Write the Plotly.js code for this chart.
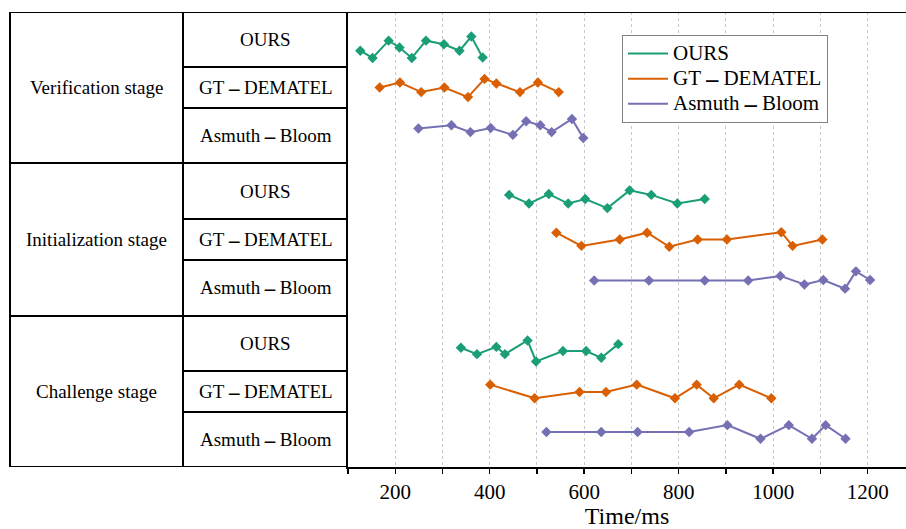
<!DOCTYPE html>
<html>
<head>
<meta charset="utf-8">
<script src="https://cdn.plot.ly/plotly-3.0.1.min.js"></script>
<style>html,body{margin:0;padding:0;background:#fff;}#chart{width:906px;height:529px;}</style>
</head>
<body>
<div id="chart"></div>
<script>
// ---- data ----
const stages = ['Verification stage', 'Initialization stage', 'Challenge stage'];
const methods = ['OURS', 'GT－DEMATEL', 'Asmuth－Bloom'];
const xTickVals = [200, 400, 600, 800, 1000, 1200];
const xTitle = 'Time/ms';

// Verification stage
const verOursX = [126, 152, 186, 209, 235, 265, 303, 336, 361, 385];
const verOursY = [91.5, 89.9, 93.7, 92.2, 89.9, 93.7, 92.9, 91.5, 94.6, 90.0];
const verGtX = [167, 210, 255, 304, 354, 389, 414, 464, 502, 546];
const verGtY = [83.4, 84.5, 82.4, 83.4, 81.3, 85.3, 84.3, 82.4, 84.5, 82.4];
const verAsX = [249, 319, 359, 402, 449, 477, 507, 531, 574, 598];
const verAsY = [74.4, 75.1, 73.6, 74.5, 73.0, 76.0, 75.1, 73.6, 76.5, 72.3];

// Initialization stage
const iniOursX = [441, 483, 525, 566, 602, 649, 696, 742, 797, 855];
const iniOursY = [59.8, 57.9, 60.0, 57.9, 58.9, 56.9, 60.8, 59.8, 57.9, 58.9];
const iniGtX = [541, 594, 675, 733, 780, 840, 902, 1017, 1041, 1104];
const iniGtY = [51.5, 48.6, 50.0, 51.5, 48.4, 50.0, 50.0, 51.6, 48.6, 50.0];
const iniAsX = [621, 737, 855, 947, 1015, 1066, 1106, 1152, 1175, 1205];
const iniAsY = [41.0, 41.0, 41.0, 41.0, 42.0, 40.1, 41.1, 39.2, 43.0, 41.1];

// Challenge stage
const chaOursX = [339, 373, 414, 432, 480, 498, 555, 604, 636, 672];
const chaOursY = [26.2, 24.8, 26.4, 24.8, 27.8, 23.2, 25.5, 25.5, 24.0, 27.0];
const chaGtX = [401, 495, 590, 646, 711, 792, 838, 874, 928, 996];
const chaGtY = [18.1, 15.1, 16.5, 16.5, 18.1, 15.1, 18.1, 15.1, 18.1, 15.1];
const chaAsX = [520, 636, 713, 822, 903, 973, 1033, 1082, 1111, 1153];
const chaAsY = [7.7, 7.7, 7.7, 7.7, 9.2, 6.2, 9.2, 6.2, 9.2, 6.2];

// ---- styling / layout ----
const colors = ['#1b9e77', '#d95f02', '#7570b3'];
const serif = "'Liberation Serif', 'Times New Roman', serif";

// render the full-width dash as a clear mid-height bar
function label(t, dashSize) {
  return t.replace('－', '\u2009<span style="font-family:\'DejaVu Sans\';font-size:' + dashSize + 'px;font-weight:bold">—</span>\u2009');
}

const seriesX = [[verOursX, verGtX, verAsX], [iniOursX, iniGtX, iniAsX], [chaOursX, chaGtX, chaAsX]];
const seriesY = [[verOursY, verGtY, verAsY], [iniOursY, iniGtY, iniAsY], [chaOursY, chaGtY, chaAsY]];

const traces = [];
for (let s = 0; s < stages.length; s++) {
  for (let m = 0; m < methods.length; m++) {
    traces.push({
      x: seriesX[s][m], y: seriesY[s][m],
      type: 'scatter', mode: 'lines+markers',
      line: {color: colors[m], width: 2},
      marker: {symbol: 'diamond', size: 8, color: colors[m]},
      showlegend: false, legendgroup: methods[m], hoverinfo: 'skip'
    });
  }
}
for (let m = 0; m < methods.length; m++) {
  traces.push({
    x: [null], y: [null], type: 'scatter', mode: 'lines',
    name: '<span style="font-size:21px">' + label(methods[m], 14) + '</span>',
    line: {color: colors[m], width: 2},
    legendgroup: methods[m], showlegend: true
  });
}

// table geometry (paper x, y-axis units)
const W = 906, L = 348;
const px = v => (v - L) / (W - L);
const xOuter = px(10), xMid = px(183);
const stageEdges = [100, 66.8, 33.2, 0];
const rowEdges = [100, 87.9, 78.9, 66.8, 54.5, 45.5, 33.2, 21.1, 12.1, 0];
const lineStyle = {color: '#000', width: 2};

const shapes = [];
shapes.push({type: 'line', xref: 'paper', yref: 'y', x0: xOuter, x1: 1, y0: 100, y1: 100, line: lineStyle});
shapes.push({type: 'line', xref: 'paper', yref: 'y', x0: xOuter, x1: 0, y0: 0, y1: 0, line: lineStyle});
shapes.push({type: 'line', xref: 'paper', yref: 'y', x0: xOuter, x1: xOuter, y0: 0, y1: 100, line: lineStyle});
shapes.push({type: 'line', xref: 'paper', yref: 'y', x0: xMid, x1: xMid, y0: 0, y1: 100, line: lineStyle});
[66.8, 33.2].forEach(y => shapes.push({type: 'line', xref: 'paper', yref: 'y', x0: xOuter, x1: 0, y0: y, y1: y, line: lineStyle}));
rowEdges.forEach(y => { if (stageEdges.indexOf(y) < 0) shapes.push({type: 'line', xref: 'paper', yref: 'y', x0: xMid, x1: 0, y0: y, y1: y, line: lineStyle}); });

const annotations = [];
for (let s = 0; s < stages.length; s++) {
  annotations.push({
    xref: 'paper', yref: 'y', x: (xOuter + xMid) / 2, y: (stageEdges[s] + stageEdges[s + 1]) / 2,
    text: stages[s], showarrow: false, xanchor: 'center', yanchor: 'middle',
    font: {family: serif, size: 19, color: '#000'}
  });
  for (let m = 0; m < methods.length; m++) {
    const r = s * 3 + m;
    annotations.push({
      xref: 'paper', yref: 'y', x: xMid / 2, y: (rowEdges[r] + rowEdges[r + 1]) / 2,
      text: label(methods[m], 12), showarrow: false, xanchor: 'center', yanchor: 'middle',
      font: {family: serif, size: 19, color: '#000'}
    });
  }
}

const gridDash = '3px,3px';
const layout = {
  width: 906, height: 529,
  margin: {l: 348, r: 0, t: 12, b: 62, pad: 0},
  paper_bgcolor: '#fff', plot_bgcolor: '#fff',
  showlegend: true,
  legend: {
    x: px(622), y: (467 - 35) / 455, xanchor: 'left', yanchor: 'top',
    bgcolor: '#fff', bordercolor: '#808080', borderwidth: 1, itemwidth: 40,
    font: {family: serif, size: 17, color: '#000'}, tracegroupgap: 0
  },
  xaxis: {
    range: [100, 1281], tickvals: xTickVals, ticktext: xTickVals.map(String),
    ticks: 'outside', ticklen: 5, tickwidth: 1.5, tickcolor: '#000',
    showline: true, linecolor: '#000', linewidth: 2,
    showgrid: true, gridcolor: '#c8c8c8', gridwidth: 1, griddash: gridDash,
    zeroline: false,
    minor: {dtick: 100, tick0: 0, ticks: 'outside', ticklen: 5, tickwidth: 1.5, tickcolor: '#000',
            showgrid: true, gridcolor: '#c8c8c8', gridwidth: 1, griddash: gridDash},
    tickfont: {family: serif, size: 21, color: '#000'},
    title: {text: xTitle, font: {family: serif, size: 24, color: '#000'}, standoff: 3}
  },
  yaxis: {
    range: [0, 100], showticklabels: false, ticks: '', showgrid: false, zeroline: false,
    showline: true, linecolor: '#000', linewidth: 2, fixedrange: true
  },
  shapes: shapes,
  annotations: annotations
};

Plotly.newPlot('chart', traces, layout, {displayModeBar: false, staticPlot: true});
</script>
</body>
</html>
